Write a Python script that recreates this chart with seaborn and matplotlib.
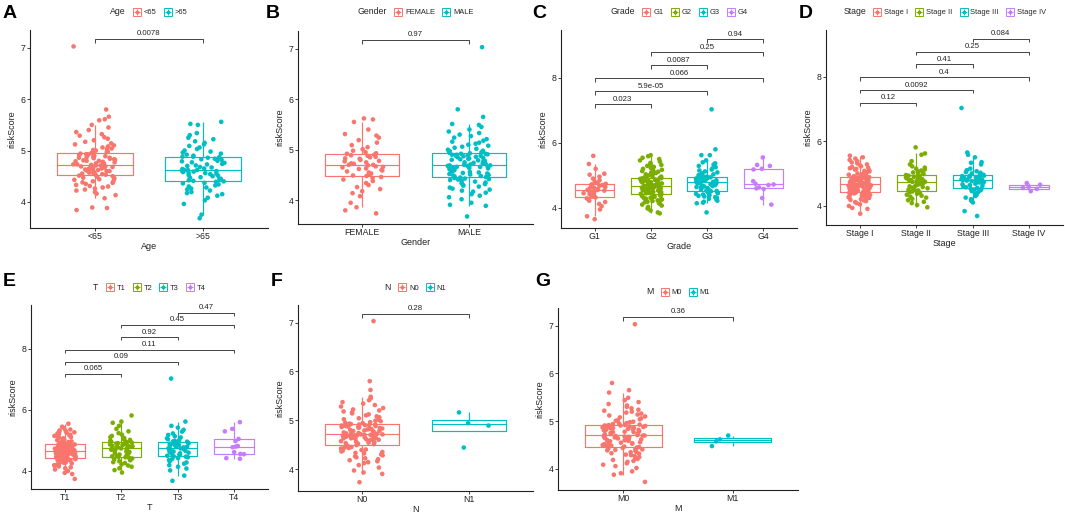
import numpy as np
import pandas as pd
import matplotlib
matplotlib.use("Agg")
import matplotlib.pyplot as plt
import seaborn as sns
from matplotlib.lines import Line2D

# ---------------- data ----------------
AGE_CATS = ["<65", ">65"]
AGE_LT65 = [3.84, 3.88, 3.89, 4.07, 4.13, 4.16, 4.19, 4.22, 4.24, 4.26, 4.28, 4.30, 4.31, 4.33, 4.35, 4.37, 4.38, 4.40, 4.41, 4.43, 4.44, 4.46, 4.47, 4.49, 4.50, 4.51, 4.52,
            4.53, 4.54, 4.55, 4.55, 4.56, 4.57, 4.58, 4.59, 4.60, 4.60, 4.61, 4.62, 4.63, 4.63, 4.64, 4.65, 4.65, 4.66, 4.67, 4.67, 4.68, 4.69, 4.69, 4.70, 4.70, 4.71, 4.71, 4.72,
            4.73, 4.73, 4.74, 4.75, 4.76, 4.77, 4.78, 4.79, 4.80, 4.80, 4.81, 4.82, 4.83, 4.84, 4.85, 4.86, 4.86, 4.87, 4.88, 4.89, 4.90, 4.91, 4.92, 4.92, 4.93, 4.94, 4.95,
            4.96, 4.97, 4.98, 5.00, 5.01, 5.03, 5.04, 5.06, 5.08, 5.10, 5.12, 5.14, 5.17, 5.20, 5.23, 5.26, 5.29, 5.32, 5.36, 5.40, 5.45, 5.50, 5.59, 5.61, 5.66, 5.80, 7.03]
AGE_GT65 = [3.68, 3.75, 3.96, 4.03, 4.08, 4.12, 4.15, 4.17, 4.19, 4.22, 4.24, 4.26, 4.28, 4.30, 4.32, 4.34, 4.36, 4.37, 4.39, 4.40,
            4.41, 4.42, 4.44, 4.45, 4.47, 4.48, 4.50, 4.51, 4.52, 4.54, 4.55, 4.56, 4.57, 4.58, 4.59, 4.60, 4.60, 4.61, 4.62, 4.62,
            4.62, 4.64, 4.65, 4.67, 4.68, 4.70, 4.71, 4.73, 4.74, 4.76, 4.77, 4.79, 4.80, 4.82, 4.83, 4.84, 4.85, 4.86, 4.87, 4.88,
            4.88, 4.90, 4.92, 4.94, 4.96, 4.98, 5.00, 5.03, 5.06, 5.09, 5.12, 5.15, 5.18, 5.22, 5.25, 5.30, 5.34, 5.50, 5.52, 5.56]

GENDER_CATS = ["FEMALE", "MALE"]
GENDER_FEMALE = [3.74, 3.80, 3.86, 3.95, 4.08, 4.14, 4.18, 4.22, 4.26, 4.30, 4.34, 4.38, 4.41, 4.44, 4.46,
                 4.48, 4.49, 4.51, 4.53, 4.55, 4.57, 4.59, 4.60, 4.62, 4.63, 4.65, 4.66, 4.67, 4.69, 4.70,
                 4.70, 4.72, 4.73, 4.75, 4.77, 4.78, 4.80, 4.82, 4.83, 4.85, 4.86, 4.88, 4.89, 4.90, 4.92,
                 4.93, 4.95, 4.98, 5.01, 5.05, 5.09, 5.14, 5.19, 5.24, 5.28, 5.31, 5.40, 5.55, 5.60, 5.62]
GENDER_MALE = [3.68, 3.89, 3.91, 3.95, 4.02, 4.06, 4.09, 4.12, 4.15, 4.17, 4.19, 4.21, 4.23, 4.25, 4.27, 4.29, 4.30, 4.32, 4.34, 4.35, 4.37, 4.38, 4.40, 4.41, 4.42, 4.43, 4.44, 4.45,
               4.46, 4.47, 4.48, 4.49, 4.50, 4.51, 4.52, 4.53, 4.54, 4.55, 4.56, 4.57, 4.58, 4.59, 4.60, 4.61, 4.62, 4.63, 4.63, 4.64, 4.65, 4.66, 4.66, 4.67, 4.68, 4.68, 4.69,
               4.69, 4.70, 4.71, 4.72, 4.73, 4.74, 4.75, 4.76, 4.77, 4.78, 4.79, 4.80, 4.81, 4.82, 4.83, 4.84, 4.85, 4.86, 4.87, 4.88, 4.88, 4.89, 4.90, 4.90, 4.91, 4.92, 4.92,
               4.93, 4.94, 4.95, 4.97, 4.98, 5.00, 5.02, 5.04, 5.06, 5.08, 5.10, 5.12, 5.14, 5.16, 5.18, 5.21, 5.24, 5.27, 5.30, 5.33, 5.36, 5.40, 5.45, 5.49, 5.51, 5.65, 5.80, 7.03]

GRADE_CATS = ["G1", "G2", "G3", "G4"]
GRADE_G1 = [3.65, 3.74, 3.95, 4.05, 4.12, 4.18, 4.22, 4.26, 4.29, 4.32,
            4.34, 4.37, 4.40, 4.42, 4.45, 4.47, 4.49, 4.51, 4.53, 4.55,
            4.55, 4.58, 4.60, 4.62, 4.64, 4.66, 4.68, 4.70, 4.72, 4.74,
            4.76, 4.80, 4.85, 4.90, 4.96, 5.02, 5.05, 5.20, 5.35, 5.60]
GRADE_G2 = [3.83, 3.86, 3.92, 3.98, 4.03, 4.07, 4.10, 4.13, 4.15, 4.17, 4.19, 4.21, 4.23, 4.25, 4.26, 4.28, 4.30, 4.31, 4.33, 4.34, 4.36, 4.37, 4.38, 4.39, 4.40, 4.41, 4.42, 4.43,
            4.44, 4.45, 4.46, 4.47, 4.48, 4.49, 4.50, 4.51, 4.52, 4.53, 4.54, 4.55, 4.56, 4.57, 4.58, 4.59, 4.60, 4.60, 4.61, 4.62, 4.63, 4.64, 4.64, 4.65, 4.66, 4.66, 4.67,
            4.67, 4.68, 4.69, 4.70, 4.71, 4.72, 4.73, 4.74, 4.75, 4.76, 4.77, 4.78, 4.79, 4.80, 4.81, 4.82, 4.83, 4.84, 4.85, 4.86, 4.87, 4.87, 4.88, 4.89, 4.89, 4.90, 4.91,
            4.92, 4.93, 4.94, 4.96, 4.97, 4.99, 5.01, 5.03, 5.05, 5.07, 5.09, 5.11, 5.13, 5.15, 5.17, 5.20, 5.23, 5.26, 5.29, 5.32, 5.35, 5.38, 5.42, 5.46, 5.50, 5.54, 5.59, 5.62]
GRADE_G3 = [3.86, 4.14, 4.16, 4.19, 4.22, 4.25, 4.28, 4.31, 4.33, 4.35, 4.37, 4.39, 4.41, 4.43, 4.45, 4.47, 4.48, 4.50, 4.51, 4.52,
            4.53, 4.55, 4.57, 4.59, 4.61, 4.63, 4.64, 4.66, 4.67, 4.69, 4.70, 4.72, 4.73, 4.74, 4.75, 4.76, 4.77, 4.78, 4.79, 4.80,
            4.80, 4.81, 4.82, 4.83, 4.84, 4.85, 4.86, 4.87, 4.88, 4.89, 4.90, 4.91, 4.91, 4.92, 4.93, 4.94, 4.94, 4.95, 4.96, 4.96,
            4.97, 4.99, 5.01, 5.03, 5.06, 5.09, 5.12, 5.15, 5.18, 5.21, 5.25, 5.29, 5.33, 5.37, 5.40, 5.46, 5.62, 5.62, 5.80, 7.03]
GRADE_G4 = [4.10, 4.30, 4.58, 4.60, 4.63, 4.70, 4.72, 4.74, 4.82, 5.18, 5.20, 5.29, 5.32, 5.55]

STAGE_CATS = ["Stage I", "Stage II", "Stage III", "Stage IV"]
STAGE_I = [3.75, 3.90, 3.93, 3.99, 4.04, 4.08, 4.11, 4.14, 4.16, 4.18, 4.20, 4.22, 4.24, 4.26, 4.27, 4.29, 4.30, 4.32, 4.33, 4.35, 4.36, 4.37, 4.38, 4.39, 4.40, 4.41, 4.42, 4.42,
           4.43, 4.44, 4.45, 4.46, 4.47, 4.48, 4.49, 4.50, 4.51, 4.52, 4.53, 4.54, 4.55, 4.56, 4.57, 4.58, 4.59, 4.59, 4.60, 4.61, 4.62, 4.62, 4.63, 4.64, 4.64, 4.65, 4.66,
           4.66, 4.67, 4.68, 4.69, 4.70, 4.71, 4.72, 4.73, 4.74, 4.75, 4.76, 4.77, 4.78, 4.79, 4.80, 4.80, 4.81, 4.82, 4.83, 4.84, 4.85, 4.85, 4.86, 4.86, 4.87, 4.87, 4.88,
           4.89, 4.90, 4.91, 4.93, 4.94, 4.96, 4.98, 5.00, 5.02, 5.04, 5.06, 5.08, 5.10, 5.12, 5.14, 5.16, 5.18, 5.20, 5.22, 5.25, 5.28, 5.31, 5.34, 5.38, 5.42, 5.46, 5.50, 5.55]
STAGE_II = [3.95, 4.02, 4.08, 4.12, 4.17, 4.21, 4.25, 4.28, 4.31, 4.34, 4.37, 4.40, 4.42, 4.44, 4.45,
            4.47, 4.49, 4.51, 4.54, 4.56, 4.58, 4.60, 4.62, 4.64, 4.66, 4.68, 4.69, 4.71, 4.72, 4.74,
            4.74, 4.76, 4.77, 4.79, 4.80, 4.82, 4.83, 4.85, 4.86, 4.88, 4.89, 4.91, 4.92, 4.93, 4.95,
            4.96, 4.98, 5.00, 5.03, 5.06, 5.09, 5.12, 5.15, 5.18, 5.22, 5.28, 5.38, 5.58, 5.62, 5.81]
STAGE_III = [3.68, 3.83, 4.10, 4.15, 4.20, 4.25, 4.30, 4.34, 4.38, 4.42, 4.45, 4.48, 4.50, 4.52, 4.53,
             4.55, 4.57, 4.60, 4.62, 4.64, 4.66, 4.68, 4.70, 4.72, 4.73, 4.75, 4.76, 4.78, 4.79, 4.80,
             4.80, 4.81, 4.82, 4.83, 4.84, 4.85, 4.86, 4.87, 4.88, 4.89, 4.90, 4.91, 4.92, 4.93, 4.95,
             4.96, 4.98, 5.00, 5.02, 5.04, 5.07, 5.10, 5.15, 5.28, 5.33, 5.35, 5.50, 5.58, 5.65, 7.03]
STAGE_IV = [4.45, 4.52, 4.55, 4.58, 4.65, 4.70]

T_CATS = ["T1", "T2", "T3", "T4"]
T_T1 = [3.74, 3.90, 3.94, 4.00, 4.05, 4.09, 4.12, 4.15, 4.17, 4.19, 4.21, 4.23, 4.25, 4.27, 4.28, 4.30, 4.31, 4.33, 4.34, 4.35, 4.36, 4.38, 4.39, 4.40, 4.41, 4.42, 4.43, 4.43,
        4.44, 4.45, 4.46, 4.47, 4.48, 4.49, 4.50, 4.51, 4.52, 4.53, 4.54, 4.55, 4.56, 4.57, 4.58, 4.58, 4.59, 4.60, 4.61, 4.61, 4.62, 4.63, 4.63, 4.64, 4.65, 4.65, 4.66,
        4.66, 4.67, 4.68, 4.69, 4.70, 4.71, 4.72, 4.73, 4.74, 4.75, 4.76, 4.76, 4.77, 4.78, 4.79, 4.80, 4.81, 4.82, 4.83, 4.83, 4.84, 4.85, 4.85, 4.86, 4.87, 4.87, 4.88,
        4.89, 4.90, 4.92, 4.93, 4.95, 4.97, 4.99, 5.01, 5.03, 5.05, 5.07, 5.09, 5.11, 5.13, 5.15, 5.17, 5.19, 5.21, 5.23, 5.25, 5.27, 5.29, 5.31, 5.33, 5.36, 5.40, 5.45, 5.55]
T_T2 = [3.95, 4.03, 4.09, 4.14, 4.18, 4.22, 4.26, 4.29, 4.32, 4.35, 4.38, 4.41, 4.43, 4.45, 4.46,
        4.48, 4.50, 4.52, 4.54, 4.56, 4.58, 4.60, 4.62, 4.64, 4.66, 4.68, 4.70, 4.71, 4.73, 4.74,
        4.74, 4.76, 4.78, 4.79, 4.81, 4.82, 4.84, 4.85, 4.87, 4.88, 4.90, 4.91, 4.93, 4.94, 4.96,
        4.97, 4.99, 5.02, 5.05, 5.08, 5.11, 5.15, 5.19, 5.24, 5.30, 5.38, 5.48, 5.58, 5.62, 5.82]
T_T3 = [3.68, 3.85, 4.02, 4.08, 4.14, 4.19, 4.24, 4.28, 4.32, 4.36, 4.39, 4.42, 4.45, 4.47, 4.48,
        4.50, 4.52, 4.54, 4.56, 4.58, 4.60, 4.62, 4.64, 4.66, 4.67, 4.69, 4.70, 4.72, 4.73, 4.74,
        4.74, 4.76, 4.77, 4.79, 4.80, 4.82, 4.83, 4.85, 4.86, 4.88, 4.89, 4.91, 4.92, 4.94, 4.96,
        4.97, 4.99, 5.01, 5.04, 5.07, 5.10, 5.14, 5.18, 5.23, 5.29, 5.35, 5.42, 5.48, 5.62, 7.03]
T_T4 = [4.40, 4.42, 4.55, 4.56, 4.62, 4.78, 4.80, 4.82, 4.98, 5.05, 5.30, 5.38, 5.60]

N_CATS = ["N0", "N1"]
N_N0 = [3.73, 3.90, 3.93, 3.97, 4.03, 4.08, 4.12, 4.14, 4.16, 4.18, 4.20, 4.22, 4.24, 4.26, 4.28, 4.30, 4.32, 4.33, 4.35, 4.36, 4.38, 4.39, 4.40, 4.42, 4.43, 4.44, 4.45, 4.46, 4.47, 4.48,
        4.49, 4.50, 4.51, 4.52, 4.53, 4.54, 4.55, 4.56, 4.57, 4.58, 4.59, 4.60, 4.60, 4.61, 4.62, 4.63, 4.63, 4.64, 4.65, 4.65, 4.66, 4.67, 4.67, 4.68, 4.68, 4.69, 4.69, 4.70, 4.70, 4.71,
        4.71, 4.72, 4.73, 4.74, 4.74, 4.75, 4.76, 4.77, 4.78, 4.78, 4.79, 4.80, 4.81, 4.82, 4.82, 4.83, 4.84, 4.85, 4.85, 4.86, 4.87, 4.87, 4.88, 4.88, 4.89, 4.89, 4.90, 4.90, 4.91, 4.91,
        4.92, 4.93, 4.94, 4.95, 4.96, 4.98, 4.99, 5.01, 5.02, 5.04, 5.06, 5.08, 5.10, 5.12, 5.14, 5.16, 5.18, 5.20, 5.22, 5.25, 5.28, 5.31, 5.34, 5.37, 5.41, 5.45, 5.48, 5.62, 5.80, 7.03]
N_N1 = [4.44, 4.89, 4.94, 5.16]

M_CATS = ["M0", "M1"]
M_M0 = [3.73, 3.88, 3.91, 3.95, 4.02, 4.06, 4.09, 4.12, 4.15, 4.17, 4.19, 4.21, 4.23, 4.25, 4.27, 4.29, 4.30, 4.32, 4.33, 4.35, 4.36, 4.38, 4.39, 4.40, 4.41, 4.42, 4.43, 4.44, 4.45, 4.46,
        4.47, 4.48, 4.49, 4.50, 4.51, 4.52, 4.53, 4.54, 4.55, 4.56, 4.57, 4.58, 4.59, 4.60, 4.61, 4.62, 4.62, 4.63, 4.64, 4.65, 4.65, 4.66, 4.67, 4.67, 4.68, 4.68, 4.69, 4.70, 4.70, 4.71,
        4.71, 4.72, 4.73, 4.74, 4.75, 4.76, 4.77, 4.77, 4.78, 4.79, 4.80, 4.81, 4.82, 4.83, 4.83, 4.84, 4.85, 4.86, 4.86, 4.87, 4.88, 4.88, 4.89, 4.89, 4.90, 4.90, 4.91, 4.91, 4.92, 4.92,
        4.93, 4.94, 4.95, 4.96, 4.98, 4.99, 5.01, 5.02, 5.04, 5.06, 5.08, 5.10, 5.12, 5.14, 5.16, 5.18, 5.20, 5.22, 5.24, 5.27, 5.30, 5.33, 5.36, 5.40, 5.44, 5.49, 5.60, 5.65, 5.80, 7.03]
M_M1 = [4.48, 4.58, 4.62, 4.70]

P_AGE = ["0.0078"]
P_GENDER = ["0.97"]
P_GRADE = ["0.023", "5.9e-05", "0.066", "0.0087", "0.25", "0.94"]
P_STAGE = ["0.12", "0.0092", "0.4", "0.41", "0.25", "0.084"]
P_T = ["0.065", "0.09", "0.11", "0.92", "0.45", "0.47"]
P_N = ["0.28"]
P_M = ["0.36"]

# ---------------- style ----------------
sns.set_style("ticks")
plt.rcParams["font.family"] = ["Liberation Sans", "DejaVu Sans"]

PAL2 = ["#F8766D", "#00BFC4"]
PAL4 = ["#F8766D", "#7CAE00", "#00BFC4", "#C77CFF"]
PAIRS2 = [(0, 1)]
PAIRS4 = [(0, 1), (0, 2), (0, 3), (1, 2), (1, 3), (2, 3)]

W, H = 1065, 513
fig = plt.figure(figsize=(W / 100, H / 100), dpi=100)
fig.patch.set_facecolor("white")

panels = [
    dict(letter="A", var="Age", cats=AGE_CATS, vals=[AGE_LT65, AGE_GT65], pv=P_AGE,
         px=(30, 268, 30, 228), ylim=(3.49, 7.35), yt=[4, 5, 6, 7], lx=(3, 5), ly=12),
    dict(letter="B", var="Gender", cats=GENDER_CATS, vals=[GENDER_FEMALE, GENDER_MALE], pv=P_GENDER,
         px=(298, 533, 31, 224), ylim=(3.53, 7.35), yt=[4, 5, 6, 7], lx=(266, 5), ly=12),
    dict(letter="C", var="Grade", cats=GRADE_CATS, vals=[GRADE_G1, GRADE_G2, GRADE_G3, GRADE_G4], pv=P_GRADE,
         px=(561, 797, 30, 228), ylim=(3.38, 9.47), yt=[4, 6, 8], lx=(532, 5), ly=12),
    dict(letter="D", var="Stage", cats=STAGE_CATS, vals=[STAGE_I, STAGE_II, STAGE_III, STAGE_IV], pv=P_STAGE,
         px=(826, 1063, 30, 225), ylim=(3.4, 9.45), yt=[4, 6, 8], lx=(799, 5), ly=12),
    dict(letter="E", var="T", cats=T_CATS, vals=[T_T1, T_T2, T_T3, T_T4], pv=P_T,
         px=(31, 268, 305, 489), ylim=(3.41, 9.44), yt=[4, 6, 8], lx=(3, 273), ly=287),
    dict(letter="F", var="N", cats=N_CATS, vals=[N_N0, N_N1], pv=P_N,
         px=(298, 533, 305, 491), ylim=(3.55, 7.36), yt=[4, 5, 6, 7], lx=(271, 273), ly=287),
    dict(letter="G", var="M", cats=M_CATS, vals=[M_M0, M_M1], pv=P_M,
         px=(558, 798, 308, 490), ylim=(3.56, 7.37), yt=[4, 5, 6, 7], lx=(535, 273), ly=292),
]

np.random.seed(7)

def legend_title_left(leg):
    try:
        vp = leg.get_children()[0]
        kids = vp.get_children()
        title_box, hp = kids[0], kids[1]
        vp._children = [hp]
        hp._children = [title_box] + hp.get_children()
    except Exception:
        pass

for p in panels:
    l, r, t, b = p["px"]
    ax = fig.add_axes([l / W, 1 - b / H, (r - l) / W, (b - t) / H])
    cats = p["cats"]
    n = len(cats)
    pal = PAL2 if n == 2 else PAL4
    pdict = dict(zip(cats, pal))
    df = pd.DataFrame({
        p["var"]: np.concatenate([[c] * len(v) for c, v in zip(cats, p["vals"])]),
        "riskScore": np.concatenate([np.asarray(v, float) for v in p["vals"]]),
    })
    sns.boxplot(data=df, x=p["var"], y="riskScore", hue=p["var"], order=cats, hue_order=cats,
                palette=pdict, fill=False, width=0.7, linewidth=0.85, showfliers=False,
                showcaps=False, legend=False, ax=ax, zorder=2)
    sns.stripplot(data=df, x=p["var"], y="riskScore", hue=p["var"], order=cats, hue_order=cats,
                  palette=pdict, jitter=0.2, size=3.3, linewidth=0, legend=False, ax=ax, zorder=3)

    ax.set_xlim(-0.6, n - 0.4)
    ax.set_ylim(*p["ylim"])
    ax.set_yticks(p["yt"])
    ax.set_yticklabels([str(v) for v in p["yt"]])
    for s in ["top", "right"]:
        ax.spines[s].set_visible(False)
    for s in ["left", "bottom"]:
        ax.spines[s].set_linewidth(0.8)
        ax.spines[s].set_color("#222222")
    ax.tick_params(axis="both", labelsize=6.3, length=2.0, width=0.6, pad=1.2,
                   colors="#222222", labelcolor="#222222")
    ax.set_xlabel(p["var"], fontsize=6.5, labelpad=0.5, color="#222222")
    ax.set_ylabel("riskScore", fontsize=6.5, labelpad=3, color="#222222")

    # significance brackets
    pairs = PAIRS2 if n == 2 else PAIRS4
    ymax = max(max(v) for v in p["vals"])
    y0 = ymax + 0.15
    step = 0.4
    tick = 0.09 if n == 2 else 0.1
    for k, ((i, j), lab) in enumerate(zip(pairs, p["pv"])):
        y = y0 + k * step
        ax.plot([i, i, j, j], [y - tick, y, y, y - tick], color="#444444", lw=0.7,
                solid_capstyle="butt", zorder=4)
        ax.annotate(lab, xy=((i + j) / 2, y), xytext=(0, 1.2), textcoords="offset points",
                    ha="center", va="bottom", fontsize=5.6, color="#222222")

    # legend on top, title on the left
    handles = [(Line2D([], [], marker="s", ms=6, mfc="white", mec=c, mew=0.7, ls="none"),
                Line2D([], [], marker="+", ms=5, mec=c, mew=0.7, ls="none"),
                Line2D([], [], marker="o", ms=1.8, mfc=c, mec=c, ls="none")) for c in pal]
    cx = (l + r) / 2 / W
    cy = 1 - p["ly"] / H
    leg = ax.legend(handles, cats, title=p["var"], ncol=n, loc="center",
                    bbox_to_anchor=(cx, cy), bbox_transform=fig.transFigure,
                    frameon=False, fontsize=5.4, title_fontsize=6.3, handlelength=1.0,
                    handletextpad=0.4, columnspacing=1.0, borderpad=0.1)
    legend_title_left(leg)

    # panel letter
    fig.text(p["lx"][0] / W, 1 - p["lx"][1] / H, p["letter"], fontsize=14, fontweight="bold",
             ha="left", va="top", color="black")

fig.savefig("out.png", dpi=100, facecolor="white")
